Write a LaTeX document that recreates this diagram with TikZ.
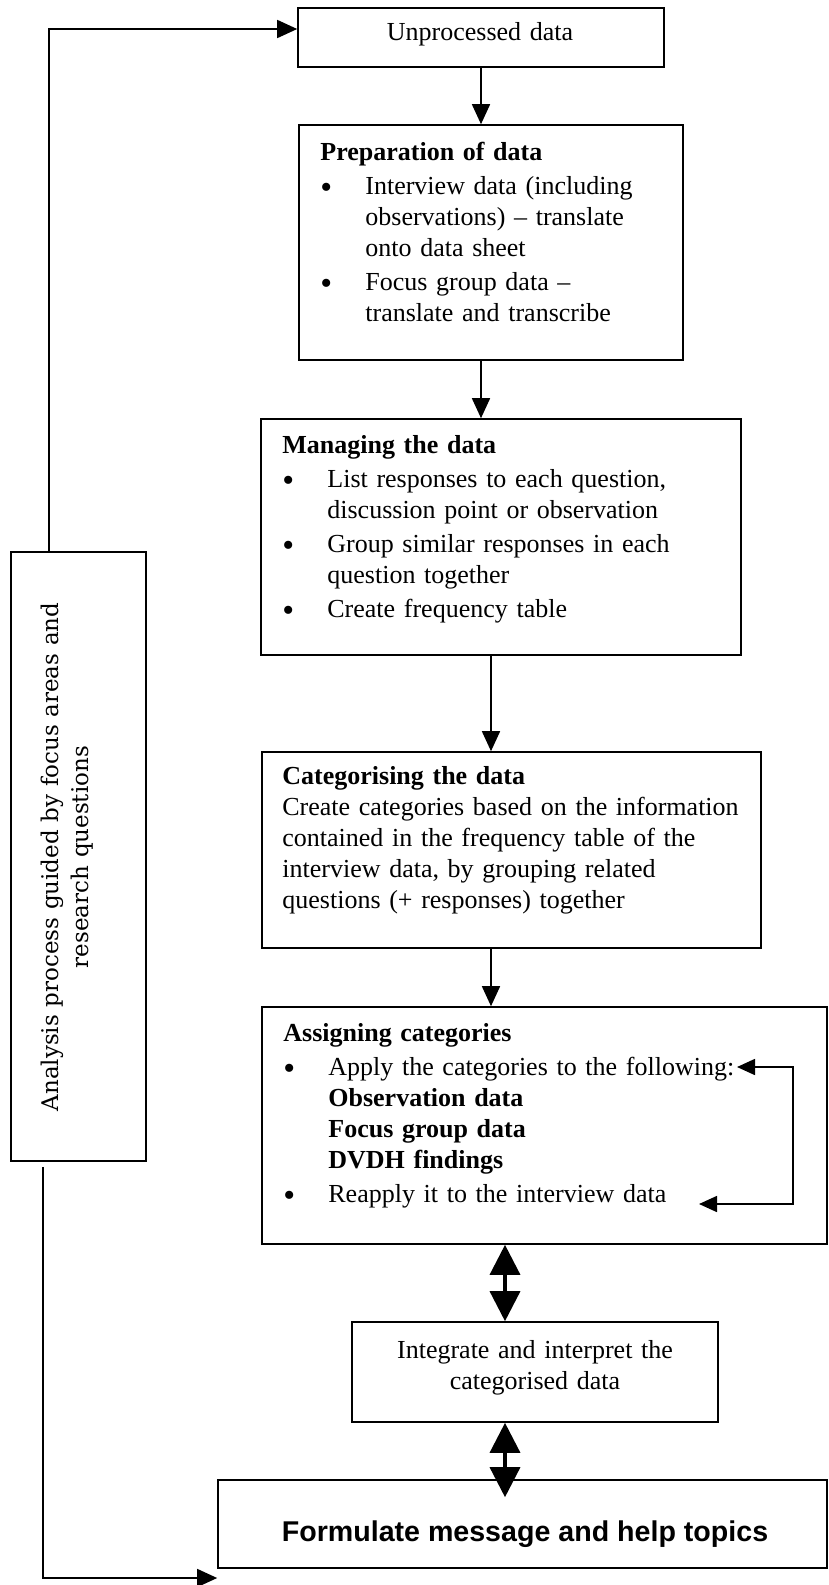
\documentclass[tikz,border=0pt]{standalone}
\usepackage{fontspec}
\usepackage{graphicx}
\setmainfont{Liberation Serif}
\newfontfamily\headsans{Liberation Sans}
\newfontfamily\sidefont{DejaVu Serif}
\usetikzlibrary{arrows.meta,calc}

% bullet item and continuation indent
\newcommand{\bul}{\makebox[22.5pt][l]{\raisebox{-2pt}{\scalebox{1.3}{\textbullet}}}}
\newcommand{\ind}{\hspace*{22.5pt}}

\begin{document}
\begin{tikzpicture}[x=0.5pt,y=-0.5pt,
  box/.style={draw, line width=0.8pt, inner sep=0pt},
  txt/.style={inner sep=0pt, font=\fontsize{13pt}{15.5pt}\selectfont, text width=320pt, align=left},
  ctxt/.style={inner sep=0pt, font=\fontsize{13pt}{15.5pt}\selectfont, text width=200pt, align=center},
  flow/.style={line width=0.8pt, -{Triangle[length=10pt,width=9pt]}},
  loopback/.style={line width=0.8pt, {Triangle[length=9pt,width=8pt]}-{Triangle[length=9pt,width=8pt]}},
  twoway/.style={line width=1.7pt, {Triangle[length=15pt,width=15pt]}-{Triangle[length=15pt,width=15pt]}},
]
\fill[white] (0,0) rectangle (829,1585);
\useasboundingbox (0,0) rectangle (829,1585);

% boxes
\node[box, minimum width=183pt,   minimum height=29.5pt]  (b1) at (481,37.5) {};
\node[box, minimum width=192pt,   minimum height=117.5pt] (b2) at (491,242.5) {};
\node[box, minimum width=240pt,   minimum height=118pt]   (b3) at (501,537) {};
\node[box, minimum width=249.5pt, minimum height=98pt]    (b4) at (511.5,850) {};
\node[box, minimum width=282.5pt, minimum height=118.5pt] (b5) at (544.5,1125.5) {};
\node[box, minimum width=183pt,   minimum height=50pt]    (b6) at (535,1372) {};
\node[box, minimum width=304.5pt, minimum height=44pt]    (b7) at (522.5,1524) {};
\node[box, minimum width=67.5pt,  minimum height=304.5pt] (guide) at (78.5,856.5) {};

% texts
\node[ctxt, anchor=base] (t1) at (480,40) {Unprocessed data};

\node[txt, anchor=base west] (t2) at (320,160) {%
\textbf{Preparation of data}\\[1.5pt]
\bul Interview data (including\\
\ind observations) -- translate\\
\ind onto data sheet\\[1.5pt]
\bul Focus group data --\\
\ind translate and transcribe};

\node[txt, anchor=base west] (t3) at (282,453) {%
\textbf{Managing the data}\\[1.5pt]
\bul List responses to each question,\\
\ind discussion point or observation\\[1.5pt]
\bul Group similar responses in each\\
\ind question together\\[1.5pt]
\bul Create frequency table};

\node[txt, anchor=base west] (t4) at (282,784) {%
\textbf{Categorising the data}\\
Create categories based on the information\\
contained in the frequency table of the\\
interview data, by grouping related\\
questions (+ responses) together};

\node[txt, anchor=base west] (t5) at (283,1041) {%
\textbf{Assigning categories}\\[1.5pt]
\bul Apply the categories to the following:\\
\ind\textbf{Observation data}\\
\ind\textbf{Focus group data}\\
\ind\textbf{DVDH findings}\\[1.5pt]
\bul Reapply it to the interview data};

\node[ctxt, anchor=base] (t6) at (535,1358) {Integrate and interpret the\\ categorised data};

\node[inner sep=0pt, font=\headsans\bfseries\fontsize{14.3pt}{17pt}\selectfont, anchor=base] (t7) at (525,1541) {Formulate message and help topics};

\node[rotate=90, inner sep=0pt, text width=300pt, align=center,
      font=\sidefont\fontsize{11.5pt}{15pt}\selectfont, anchor=base] (side) at (58,857)
      {Analysis process guided by focus areas and\\ research questions};

% connector positions
\coordinate (dx) at (505,0);
\coordinate (upx) at (49,0);
\coordinate (lowc) at (43,1578);
\coordinate (fbA) at (737,1067);
\coordinate (fbB) at (699,1204);
\coordinate (fbR) at (793,0);

% main flow
\draw[flow] (b1.south) -- (b1.south |- b2.north);
\draw[flow] (b1.south |- b2.south) -- (b1.south |- b3.north);
\draw[flow] (b2.south |- b3.south) -- (b2.south |- b4.north);
\draw[flow] (b2.south |- b4.south) -- (b2.south |- b5.north);
\draw[twoway] (dx |- b5.south) -- (dx |- b6.north);
\draw[twoway] (dx |- b6.south) -- ($(dx |- b7.north)+(0,18)$);

% reapply loop inside the assigning box
\draw[loopback] (fbA) -| (fbR |- fbB) -- (fbB);

% guiding process lines
\draw[flow] (guide.north -| upx) |- ([yshift=4.25pt]b1.west);
\draw[flow] ($(guide.south -| lowc)+(0,5)$) -- (lowc) -- (lowc -| b7.west);
\end{tikzpicture}
\end{document}
